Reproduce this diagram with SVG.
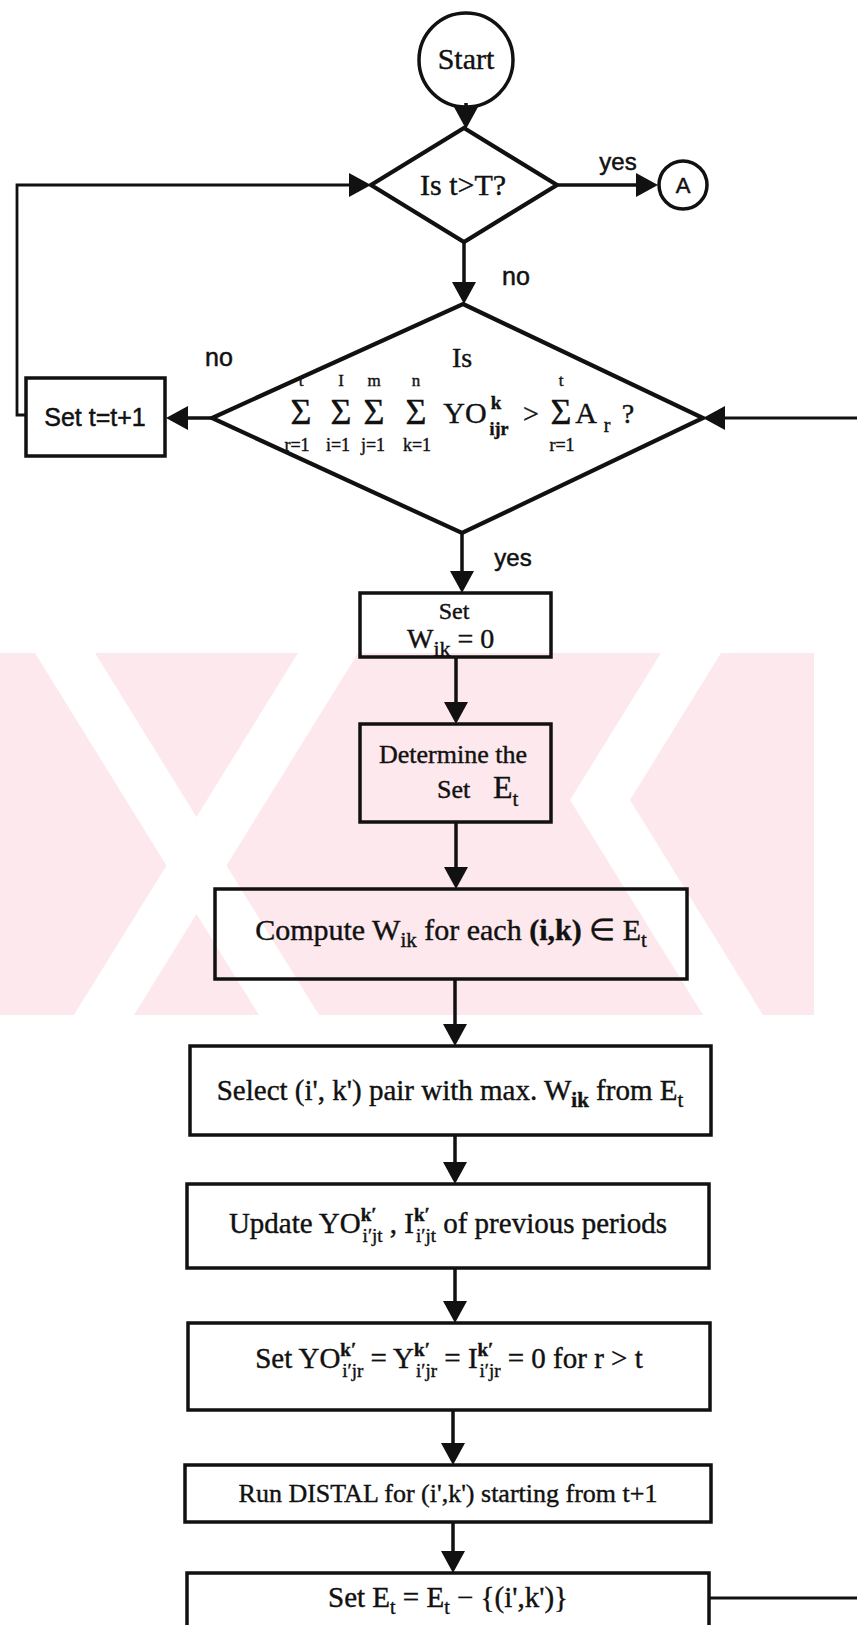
<svg xmlns="http://www.w3.org/2000/svg" width="857" height="1625" viewBox="0 0 857 1625">
  <style>
    .serif { font-family: "Liberation Serif", "Times New Roman", serif; fill: #111; stroke: #111; stroke-width: 0.4; }
    .sans { font-family: "Liberation Sans", Arial, sans-serif; fill: #111; stroke: #111; stroke-width: 0.5; }
    .box { fill: none; stroke: #111; stroke-width: 3.5; }
    .dia { fill: none; stroke: #111; stroke-width: 4.2; stroke-linejoin: miter; }
    .term { fill: none; stroke: #111; stroke-width: 3.5; }
    .wire { fill: none; stroke: #111; stroke-width: 3.5; }
    .thin { fill: none; stroke: #111; stroke-width: 2.8; }
    .mark { fill: #fde9ed; }
    .gap { fill: #fff; }
  </style>
  <defs>
    <marker id="arrow" viewBox="0 0 22 24" refX="0" refY="12" markerWidth="22" markerHeight="24" markerUnits="userSpaceOnUse" orient="auto">
      <path d="M0,0 L22,12 L0,24 z" fill="#111"/>
    </marker>
  </defs>

  <rect x="0" y="0" width="857" height="1625" fill="#fff"/>

  <!-- page watermark band behind the flow -->
  <g id="watermark">
    <rect class="mark" x="0" y="653" width="814" height="362"/>
    <polygon class="gap" points="35,653 95,653 319,1015 259,1015"/>
    <polygon class="gap" points="298,653 358,653 134,1015 74,1015"/>
    <polygon class="gap" points="661,653 721,653 630,800 763,1015 703,1015 570,800"/>
  </g>

  <!-- connectors -->
  <g id="connectors">
    <path class="wire" d="M466,103 L466,107" marker-end="url(#arrow)"/>
    <path class="wire" d="M557,185 L636,185" marker-end="url(#arrow)"/>
    <path class="wire" d="M464,242 L464,282" marker-end="url(#arrow)"/>
    <path class="wire" d="M212,418 L188,418" marker-end="url(#arrow)"/>
    <path class="thin" d="M26,415 L17,415 L17,185 L349,185" marker-end="url(#arrow)"/>
    <path class="thin" d="M857,418 L725,418" marker-end="url(#arrow)"/>
    <path class="wire" d="M462,533 L462,571" marker-end="url(#arrow)"/>
    <path class="wire" d="M456,657 L456,702" marker-end="url(#arrow)"/>
    <path class="wire" d="M456,822 L456,867" marker-end="url(#arrow)"/>
    <path class="wire" d="M455,979 L455,1024" marker-end="url(#arrow)"/>
    <path class="wire" d="M455,1135 L455,1162" marker-end="url(#arrow)"/>
    <path class="wire" d="M455,1268 L455,1301" marker-end="url(#arrow)"/>
    <path class="wire" d="M453,1410 L453,1443" marker-end="url(#arrow)"/>
    <path class="wire" d="M453,1522 L453,1551" marker-end="url(#arrow)"/>
    <path class="thin" d="M709,1598 L857,1598"/>
    <!-- branch labels -->
    <text class="sans" x="618" y="170" font-size="24" text-anchor="middle">yes</text>
    <text class="sans" x="516" y="285" font-size="25" text-anchor="middle">no</text>
    <text class="sans" x="219" y="366" font-size="25" text-anchor="middle">no</text>
    <text class="sans" x="513" y="566" font-size="24" text-anchor="middle">yes</text>
  </g>

  <!-- start terminal -->
  <g id="start">
    <circle class="term" cx="466" cy="60" r="47"/>
    <text class="serif" x="466" y="69" font-size="30" text-anchor="middle">Start</text>
  </g>

  <!-- horizon test -->
  <g id="test-horizon">
    <polygon class="dia" points="464,128 557,185 464,242 371,185"/>
    <text class="serif" x="463" y="195" font-size="30" text-anchor="middle">Is t&gt;T?</text>
  </g>

  <!-- off-page connector A -->
  <g id="connector-a">
    <circle class="term" cx="683" cy="185" r="24" stroke-width="3"/>
    <text class="sans" x="683" y="193" font-size="22" text-anchor="middle">A</text>
  </g>

  <!-- capacity test: cumulative output against cumulative capacity -->
  <g id="test-capacity">
    <polygon class="dia" points="463,304 703,418 462,533 212,418"/>
    <text class="serif" x="462" y="367" font-size="28" text-anchor="middle">Is</text>
    <text class="serif" text-anchor="middle">
      <tspan x="303" y="386" font-size="17">t</tspan>
      <tspan x="303" y="424" font-size="36">Σ</tspan>
      <tspan x="299" y="451" font-size="18">r=1</tspan>
      <tspan x="343" y="386" font-size="17">I</tspan>
      <tspan x="343" y="424" font-size="36">Σ</tspan>
      <tspan x="340" y="451" font-size="18">i=1</tspan>
      <tspan x="376" y="386" font-size="17">m</tspan>
      <tspan x="376" y="424" font-size="36">Σ</tspan>
      <tspan x="375" y="451" font-size="18">j=1</tspan>
      <tspan x="418" y="386" font-size="17">n</tspan>
      <tspan x="418" y="424" font-size="36">Σ</tspan>
      <tspan x="417" y="451" font-size="18">k=1</tspan>
    </text>
    <text class="serif" text-anchor="middle">
      <tspan x="467" y="423" font-size="30">YO</tspan>
      <tspan x="498" y="409" font-size="19" font-weight="bold">k</tspan>
      <tspan x="501" y="435" font-size="18" font-weight="bold">ijr</tspan>
      <tspan x="531" y="423" font-size="28">&gt;</tspan>
    </text>
    <text class="serif" text-anchor="middle">
      <tspan x="563" y="386" font-size="17">t</tspan>
      <tspan x="563" y="424" font-size="36">Σ</tspan>
      <tspan x="564" y="451" font-size="18">r=1</tspan>
      <tspan x="588" y="423" font-size="30">A</tspan>
      <tspan x="609" y="432" font-size="20">r</tspan>
      <tspan x="628" y="423" font-size="28">?</tspan>
    </text>
  </g>

  <!-- increment period -->
  <g id="inc-t">
    <rect class="box" x="26" y="378" width="139" height="78"/>
    <text class="sans" x="95" y="426" font-size="25" text-anchor="middle">Set t=t+1</text>
  </g>

  <!-- reset weights -->
  <g id="set-w">
    <rect class="box" x="360" y="593" width="191" height="64"/>
    <text class="serif" x="454" y="619" font-size="24" text-anchor="middle">Set</text>
    <text class="serif" x="407" y="648" font-size="28">W<tspan font-size="22" dy="8">ik</tspan><tspan dy="-8"> = 0</tspan></text>
  </g>

  <!-- candidate set -->
  <g id="determine-e">
    <rect class="box" x="360" y="724" width="191" height="98"/>
    <text class="serif" x="453" y="763" font-size="26" text-anchor="middle">Determine the</text>
    <text class="serif" x="437" y="798" font-size="26">Set</text>
    <text class="serif" x="493" y="798" font-size="32">E<tspan font-size="21" dy="8">t</tspan></text>
  </g>

  <!-- weight computation -->
  <g id="compute-w">
    <rect class="box" x="215" y="889" width="472" height="90"/>
    <text class="serif" x="451" y="940" font-size="30" text-anchor="middle">Compute W<tspan font-size="21" dy="7">ik</tspan><tspan dy="-7">  for each </tspan><tspan font-weight="bold">(i,k)</tspan> ∈  E<tspan font-size="21" dy="7">t</tspan></text>
  </g>

  <!-- pair selection -->
  <g id="select-pair">
    <rect class="box" x="190" y="1046" width="521" height="89"/>
    <text class="serif" x="450" y="1100" font-size="29" text-anchor="middle">Select (i', k') pair with max. W<tspan font-size="21" dy="7" font-weight="bold">ik</tspan><tspan dy="-7">  from E</tspan><tspan font-size="21" dy="7">t</tspan></text>
  </g>

  <!-- update earlier periods -->
  <g id="update-prev">
    <rect class="box" x="187" y="1184" width="522" height="84"/>
    <text class="serif" x="448" y="1233" font-size="29" text-anchor="middle">Update YO<tspan font-size="19" font-weight="bold" dy="-12">k′</tspan><tspan font-size="19" dx="-14" dy="21">i′jt</tspan><tspan dy="-9"> , I</tspan><tspan font-size="19" font-weight="bold" dy="-12">k′</tspan><tspan font-size="19" dx="-14" dy="21">i′jt</tspan><tspan dy="-9"> of previous periods</tspan></text>
  </g>

  <!-- clear later periods -->
  <g id="clear-later">
    <rect class="box" x="188" y="1323" width="522" height="87"/>
    <text class="serif" x="449" y="1368" font-size="29" text-anchor="middle">Set YO<tspan font-size="19" font-weight="bold" dy="-12">k′</tspan><tspan font-size="19" dx="-14" dy="21">i′jr</tspan><tspan dy="-9"> = Y</tspan><tspan font-size="19" font-weight="bold" dy="-12">k′</tspan><tspan font-size="19" dx="-14" dy="21">i′jr</tspan><tspan dy="-9"> = I</tspan><tspan font-size="19" font-weight="bold" dy="-12">k′</tspan><tspan font-size="19" dx="-14" dy="21">i′jr</tspan><tspan dy="-9"> = 0 for r &gt; t</tspan></text>
  </g>

  <!-- rerun DISTAL -->
  <g id="run-distal">
    <rect class="box" x="185" y="1465" width="526" height="57"/>
    <text class="serif" x="448" y="1502" font-size="26" text-anchor="middle">Run DISTAL for (i',k') starting from t+1</text>
  </g>

  <!-- shrink candidate set -->
  <g id="shrink-e">
    <rect class="box" x="187" y="1573" width="522" height="70"/>
    <text class="serif" x="448" y="1607" font-size="29" text-anchor="middle">Set E<tspan font-size="20" dy="7">t</tspan><tspan dy="-7"> = E</tspan><tspan font-size="20" dy="7">t</tspan><tspan dy="-7"> − {(i',k')}</tspan></text>
  </g>
</svg>
